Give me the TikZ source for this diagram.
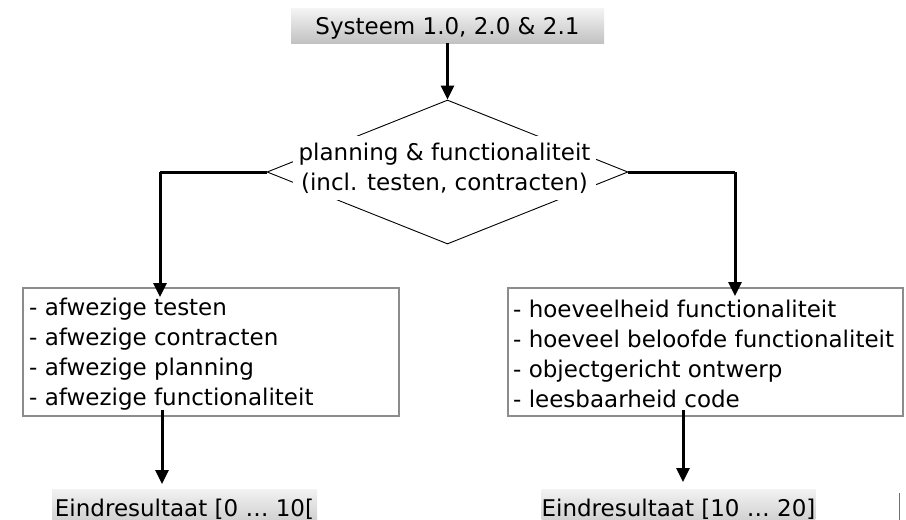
\documentclass[tikz,border=0pt]{standalone}
\usepackage{fontspec}
\setmainfont{DejaVu Sans}
\usetikzlibrary{shapes.geometric,arrows.meta}
\begin{document}
\begin{tikzpicture}[x=1pt,y=-1pt,
  every node/.style={font=\fontsize{23}{30}\selectfont, inner sep=0pt},
  titlebox/.style={top color=black!4, bottom color=black!24, draw=none, minimum width=313pt, minimum height=35pt, text depth=0pt},
  endbox/.style={top color=black!5, bottom color=black!22, draw=none, minimum height=40pt},
  frame/.style={draw=black!45, line width=1.3pt},
  listtext/.style={minimum height=124pt, align=left, anchor=north west},
  arr/.style={line width=3pt, -{Triangle[width=13pt,length=14pt]}},
  link/.style={line width=3pt}]
\useasboundingbox (0,0) rectangle (906,520);
\clip (0,0) rectangle (906,520);
\fill[white] (0,0) rectangle (906,520);
% top box
\node[titlebox] (top) at (447.5,25.5) {Systeem 1.0, 2.0 \& 2.1};
% diamond
\node[diamond, draw, line width=0.9pt, minimum width=361pt, minimum height=144pt, aspect=2.5] (dia) at (447.5,172) {};
\node[fill=white, minimum width=303pt, minimum height=64pt, align=center] (dtext) at (444.5,168) {planning \& functionaliteit\\(incl. testen, contracten)};
\draw[arr] (top.south) -- (dia.north);
% list boxes
\draw[frame] (23,288) rectangle (399,416);
\node[listtext] (lbox) at (29,292) {- afwezige testen\\- afwezige contracten\\- afwezige planning\\- afwezige functionaliteit};
\draw[frame] (508,288) rectangle (903,416);
\node[listtext] (rbox) at (513,292) {- hoeveelheid functionaliteit\\- hoeveel beloofde functionaliteit\\- objectgericht ontwerp\\- leesbaarheid code};
\coordinate (lin) at (160,297);
\coordinate (rin) at (735,296);
\draw[link] (dia.west) -- (160,172);
\draw[arr] (160,172) -- (lin);
\draw[link] (dia.east) -- (735,172);
\draw[arr] (735,172) -- (rin);
% end boxes
\node[endbox, minimum width=265pt] (lend) at (184.5,509) {Eindresultaat [0 … 10[};
\node[endbox, minimum width=271pt] (rend) at (678.5,509) {Eindresultaat [10 … 20]};
\coordinate (lout) at (162,410);
\coordinate (rout) at (683,410);
\draw[arr] (lout) -- (162,484);
\draw[arr] (rout) -- (683,482);
% stray mark
\coordinate (m1) at (899,493);
\coordinate (m2) at (899,521);
\draw[black!55, line width=1pt] (m1) -- (m2);
\end{tikzpicture}
\end{document}
